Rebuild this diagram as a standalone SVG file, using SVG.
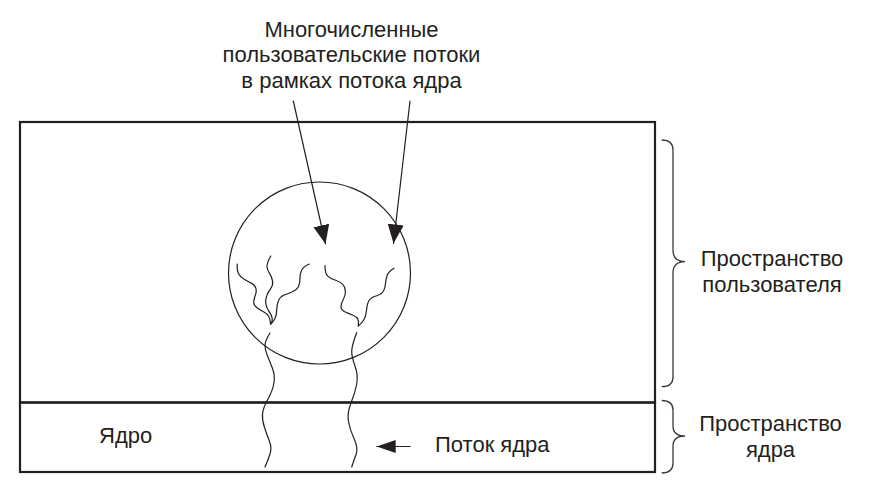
<svg xmlns="http://www.w3.org/2000/svg" width="880" height="481" viewBox="0 0 880 481">
<style>
  .box { fill: none; stroke: #231f20; stroke-width: 2.2; }
  .thin { fill: none; stroke: #231f20; stroke-width: 1.2; stroke-linecap: round; }
  .brace { fill: none; stroke: #3a3a3a; stroke-width: 1.3; }
  .lbl { font-family: "Liberation Sans", Arial, sans-serif; font-size: 22px; fill: #231f20; }
  .mid { text-anchor: middle; }
</style>
<defs>
  <marker id="headBig" markerUnits="userSpaceOnUse" markerWidth="20" markerHeight="17" refX="19" refY="8" orient="auto">
    <path d="M0,0 L19,8 L0,16 Z" fill="#231f20"/>
  </marker>
  <marker id="headSmall" markerUnits="userSpaceOnUse" markerWidth="20" markerHeight="14" refX="19" refY="6.5" orient="auto">
    <path d="M0,0 L19,6.5 L0,13 Z" fill="#231f20"/>
  </marker>
</defs>
<rect width="880" height="481" fill="#ffffff"/>

<g id="user-space">
  <rect class="box" x="20" y="122" width="635" height="280.5"/>
</g>
<g id="kernel-space">
  <rect class="box" x="20" y="402.5" width="635" height="69.5"/>
  <text class="lbl" x="99" y="443.3">Ядро</text>
</g>

<g id="process">
  <circle class="thin" cx="319.5" cy="273" r="91"/>
  <path class="thin" d="M237.3,264 Q236.7,270 238.4,273.4 Q240,276.7 244.2,279.2 Q248.3,281.7 251.7,283.4 Q255,285 255.9,288.4 Q256.7,291.7 255.4,295 Q254,298.3 253.7,301.7 Q253.3,305 256.7,307.5 Q260,310 263.4,311.7 Q266.7,313.3 268.4,315.8 Q270,318.3 270.7,324"/>
  <path class="thin" d="M270.7,256 Q266.7,263.3 267,266.7 Q267.3,270 269.5,273.4 Q271.7,276.7 272.5,280.9 Q273.3,285 270.8,288.4 Q268.3,291.7 266.7,295.9 Q265,300 265.9,304.2 Q266.7,308.3 269.2,311.7 Q271.7,315 272.2,318.4 Q272.7,321.7 270.7,324"/>
  <path class="thin" d="M309.3,264 Q303.3,266.7 301.7,270 Q300,273.3 300,278.3 Q300,283.3 298.4,286.7 Q296.7,290 292.5,291.7 Q288.3,293.3 284.2,295 Q280,296.7 278.4,300.9 Q276.7,305 276.7,310 Q276.7,315 275,318.4 Q273.3,321.7 270.7,324"/>
  <path class="thin" d="M325,265.7 Q325,273.3 327.5,275.8 Q330,278.3 335,280 Q340,281.7 342.5,284.2 Q345,286.7 345.4,290.9 Q345.7,295 343.4,299.2 Q341,303.3 341,306.7 Q341,310 344.7,311.7 Q348.3,313.3 352.5,315 Q356.7,316.7 357.9,319.2 Q359,321.7 358.3,326"/>
  <path class="thin" d="M394,268.3 Q388.3,271.7 387,275.9 Q385.7,280 385.4,284.2 Q385,288.3 383.4,291.3 Q381.7,294.3 377.5,295.5 Q373.3,296.7 370.8,298.4 Q368.3,300 367.5,304.2 Q366.7,308.3 366.2,312.5 Q365.7,316.7 363.7,320 Q361.7,323.3 358.3,326"/>
</g>

<g id="kernel-threads">
  <path class="thin" d="M270,333 Q265,341 265,345.5 Q265,350 267.5,356 Q270,362 272.5,368.5 Q275,375 274,382.5 Q273,390 268,399 Q263,408 262.5,414 Q262,420 264.5,427.5 Q267,435 269.5,441.5 Q272,448 270,454 Q268,460 265,467"/>
  <path class="thin" d="M356.7,332.5 Q351.7,346 351.7,351.5 Q351.7,357 355,366 Q358.3,375 356.7,384 Q355,393 351,403 Q347,413 348.5,421.5 Q350,430 354.2,439 Q358.3,448 356.2,454 Q354,460 351.7,467"/>
</g>

<g id="label-threads">
  <text class="lbl mid" x="351.5" y="37.3">Многочисленные</text>
  <text class="lbl mid" x="351.5" y="62.4">пользовательские потоки</text>
  <text class="lbl mid" x="351.5" y="87.5">в рамках потока ядра</text>
</g>

<g id="label-kernel-thread">
  <text class="lbl" x="435" y="452.3">Поток ядра</text>
</g>

<g id="label-user-space">
  <path class="brace" d="M661.7,140 Q673,140 673,150 L673,250 Q673,261.7 685,261.7 Q673,261.7 673,273 L673,377 Q673,386.7 661.7,386.7"/>
  <text class="lbl mid" x="772" y="266">Пространство</text>
  <text class="lbl mid" x="772" y="291.7">пользователя</text>
</g>

<g id="label-kernel-space">
  <path class="brace" d="M661.7,400.5 Q673,400.5 673,410 L673,426 Q673,436 685,436 Q673,436 673,446 L673,463 Q673,473 661.7,473"/>
  <text class="lbl mid" x="770.5" y="431">Пространство</text>
  <text class="lbl mid" x="770.5" y="457">ядра</text>
</g>

<g id="connectors">
  <line class="thin" x1="293.3" y1="101" x2="325.5" y2="244" marker-end="url(#headBig)"/>
  <line class="thin" x1="410" y1="101" x2="393.5" y2="243.5" marker-end="url(#headBig)"/>
  <line class="thin" x1="410" y1="446.5" x2="376.7" y2="446.5" marker-end="url(#headSmall)"/>
</g>
</svg>
